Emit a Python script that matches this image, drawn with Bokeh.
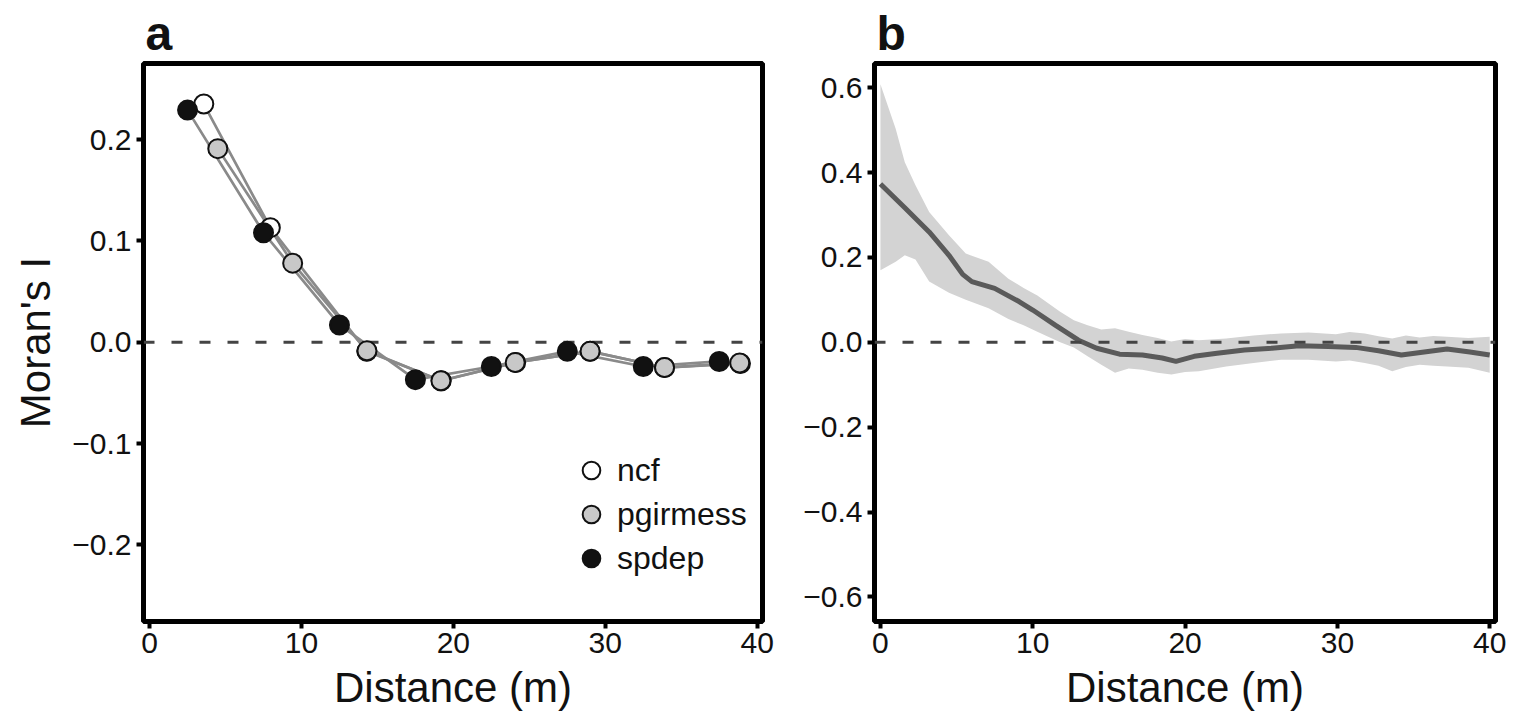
from bokeh.plotting import figure
from bokeh.layouts import row
from bokeh.models import Range1d, FixedTicker, Legend, LegendItem, Span, Title
from bokeh.embed import file_html
from bokeh.resources import INLINE

# ---------------- Panel a: correlograms ----------------
ncf_dist = [3.57, 7.95, 14.3, 19.2, 24.1, 29.0, 33.9, 38.9]
ncf_moran = [0.235, 0.113, -0.009, -0.038, -0.020, -0.009, -0.025, -0.021]

pgirmess_dist = [4.49, 9.42, 14.31, 19.18, 24.07, 29.0, 33.9, 38.85]
pgirmess_moran = [0.191, 0.078, -0.0085, -0.038, -0.020, -0.009, -0.025, -0.0205]

spdep_dist = [2.5, 7.5, 12.5, 17.5, 22.5, 27.5, 32.5, 37.5]
spdep_moran = [0.229, 0.108, 0.017, -0.037, -0.024, -0.009, -0.024, -0.019]

a_x_ticks = [0, 10, 20, 30, 40]
a_x_labels = ["0", "10", "20", "30", "40"]
a_y_ticks = [-0.2, -0.1, 0.0, 0.1, 0.2]
a_y_labels = ["\u22120.2", "\u22120.1", "0.0", "0.1", "0.2"]

# ---------------- Panel b: smoothed correlogram with envelope ----------------
b_dist = [0, 1.6, 3.2, 4.5, 5.4, 6.0, 7.5, 9.1, 10.0, 11.5, 13.0, 14.2, 15.7, 17.2,
          18.5, 19.4, 20.6, 22.1, 23.9, 25.7, 27.5, 29.4, 31.2, 32.7, 34.2, 35.7,
          37.2, 38.7, 40]
b_moran = [0.373, 0.317, 0.26, 0.205, 0.16, 0.143, 0.127, 0.096, 0.076, 0.04, 0.005,
           -0.014, -0.028, -0.030, -0.037, -0.045, -0.033, -0.026, -0.018, -0.014,
           -0.008, -0.010, -0.012, -0.020, -0.030, -0.023, -0.016, -0.023, -0.030]

env_dist = [0, 1.0, 1.6, 2.3, 3.2, 4.5, 5.6, 7.1, 8.4, 9.4, 10.3, 11.8, 12.7, 13.6,
            14.5, 15.4, 16.3, 17.2, 18.2, 19.1, 20.0, 20.9, 22.7, 24.5, 26.3, 28.1,
            29.9, 30.8, 31.8, 32.7, 33.6, 34.5, 35.4, 36.3, 37.2, 38.6, 40]
env_upper = [0.608, 0.503, 0.424, 0.37, 0.307, 0.252, 0.209, 0.19, 0.150, 0.128, 0.11,
             0.072, 0.052, 0.040, 0.030, 0.033, 0.025, 0.017, 0.010, 0.002, 0.008,
             0.005, 0.009, 0.016, 0.021, 0.023, 0.019, 0.024, 0.021, 0.014, 0.009,
             0.016, 0.011, 0.015, 0.013, 0.010, 0.013]
env_lower = [0.170, 0.19, 0.205, 0.195, 0.143, 0.117, 0.10, 0.080, 0.055, 0.040, 0.025,
             0.0, -0.012, -0.033, -0.053, -0.072, -0.062, -0.065, -0.072, -0.076,
             -0.070, -0.068, -0.057, -0.049, -0.041, -0.041, -0.045, -0.043, -0.049,
             -0.055, -0.068, -0.058, -0.053, -0.055, -0.057, -0.060, -0.072]

b_x_ticks = [0, 10, 20, 30, 40]
b_x_labels = ["0", "10", "20", "30", "40"]
b_y_ticks = [-0.6, -0.4, -0.2, 0.0, 0.2, 0.4, 0.6]
b_y_labels = ["\u22120.6", "\u22120.4", "\u22120.2", "0.0", "0.2", "0.4", "0.6"]

x_title = "Distance (m)"
y_title = "Moran's I"
panel_letters = ["a", "b"]

FONT = "Liberation Sans"
TXT = "#111111"


def style(p, xt, xl, yt, yl, letter):
    p.outline_line_color = "black"
    p.outline_line_width = 5
    p.xgrid.grid_line_color = None
    p.ygrid.grid_line_color = None
    p.background_fill_color = "white"
    p.border_fill_color = "white"
    p.xaxis.ticker = FixedTicker(ticks=xt)
    p.yaxis.ticker = FixedTicker(ticks=yt)
    p.xaxis.major_label_overrides = dict(zip(xt, xl))
    p.yaxis.major_label_overrides = dict(zip(yt, yl))
    for ax in (p.xaxis, p.yaxis):
        ax.axis_line_color = None
        ax.major_tick_in = 0
        ax.major_tick_out = 7
        ax.major_tick_line_width = 4
        ax.major_tick_line_color = "black"
        ax.minor_tick_line_color = None
        ax.major_label_text_color = TXT
        ax.major_label_text_font = FONT
        ax.major_label_text_font_size = "30px"
        ax.axis_label_text_color = TXT
        ax.axis_label_text_font_style = "normal"
        ax.axis_label_text_font = FONT
        ax.axis_label_text_font_size = "42px"
    p.xaxis.major_label_standoff = 4
    p.yaxis.major_label_standoff = 5
    p.xaxis.axis_label_standoff = 8
    p.yaxis.axis_label_standoff = 10
    p.add_layout(Title(text=letter, align="left", offset=2, standoff=8,
                       vertical_align="bottom", text_font=FONT, text_font_style="bold",
                       text_font_size="48px", text_color=TXT), "above")


# ---- figure a ----
pa = figure(width=800, height=714, x_range=Range1d(-0.4, 40.35),
            y_range=Range1d(-0.2756, 0.275), output_backend="svg", toolbar_location=None,
            min_border_left=143, min_border_right=38, min_border_top=61,
            min_border_bottom=93)
style(pa, a_x_ticks, a_x_labels, a_y_ticks, a_y_labels, panel_letters[0])
pa.xaxis.axis_label = x_title
pa.yaxis.axis_label = y_title

pa.add_layout(Span(location=0, dimension="width", line_color="#444444", line_width=3,
                   line_dash="11 17", level="underlay"))

LINE_C = "#8a8a8a"
for xs, ys in ((ncf_dist, ncf_moran), (pgirmess_dist, pgirmess_moran), (spdep_dist, spdep_moran)):
    pa.line(xs, ys, line_color=LINE_C, line_width=2.7)

r_ncf = pa.scatter(ncf_dist, ncf_moran, size=19, fill_color="white", line_color="#111111", line_width=2)
r_sp = pa.scatter(spdep_dist, spdep_moran, size=19, fill_color="#111111", line_color="#111111", line_width=2)
r_pg = pa.scatter(pgirmess_dist, pgirmess_moran, size=19, fill_color="#c8c8c8", line_color="#111111", line_width=2)

legend = Legend(items=[LegendItem(label="ncf", renderers=[r_ncf]),
                       LegendItem(label="pgirmess", renderers=[r_pg]),
                       LegendItem(label="spdep", renderers=[r_sp])],
                location=(424, 41), orientation="vertical", glyph_width=48, glyph_height=44,
                spacing=0, padding=0, margin=0, label_standoff=2, border_line_color=None,
                background_fill_alpha=0, label_text_font=FONT, label_text_font_size="32px",
                label_text_color=TXT, label_text_baseline="middle")
pa.add_layout(legend)

# ---- figure b ----
pb = figure(width=732, height=714, x_range=Range1d(-0.39, 40.38),
            y_range=Range1d(-0.658, 0.657), output_backend="svg", toolbar_location=None,
            min_border_left=72, min_border_right=37, min_border_top=61,
            min_border_bottom=93)
style(pb, b_x_ticks, b_x_labels, b_y_ticks, b_y_labels, panel_letters[1])
pb.xaxis.axis_label = x_title

pb.varea(x=env_dist, y1=env_lower, y2=env_upper, fill_color="#d3d3d3")
pb.add_layout(Span(location=0, dimension="width", line_color="#444444", line_width=3,
                   line_dash="11 17"))
pb.line(b_dist, b_moran, line_color="#5a5a5a", line_width=5)

layout = row(pa, pb)
open("out.html", "w").write(file_html(layout, INLINE))
